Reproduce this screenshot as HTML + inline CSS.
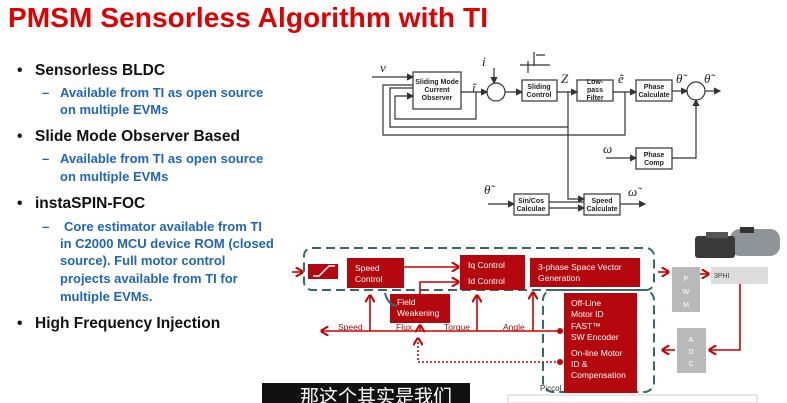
<!DOCTYPE html>
<html><head><meta charset="utf-8"><style>
body{margin:0;background:#fff;width:787px;height:403px;overflow:hidden}
svg{display:block}
.t{font-family:"Liberation Sans",sans-serif}
</style></head><body>
<svg width="787" height="403" viewBox="0 0 787 403" class="t">
<defs>
<marker id="a" markerWidth="6" markerHeight="6" refX="5" refY="3" orient="auto"><path d="M0,0 L6,3 L0,6 z" fill="#333"/></marker>
<marker id="r" markerWidth="5" markerHeight="6" refX="4" refY="3" orient="auto"><path d="M0,0 L5,3 L0,6" fill="none" stroke="#c00" stroke-width="1.3"/></marker>
</defs>
<text x="8" y="27" font-size="28" font-weight="bold" fill="#e00000" textLength="480">PMSM Sensorless Algorithm with TI</text>
<g font-size="15.5" font-weight="bold" fill="#111">
<text x="17" y="75">•</text><text x="35" y="75">Sensorless BLDC</text>
<text x="17" y="141">•</text><text x="35" y="141">Slide Mode Observer Based</text>
<text x="17" y="208">•</text><text x="35" y="208">instaSPIN-FOC</text>
<text x="17" y="328">•</text><text x="35" y="328">High Frequency Injection</text>
</g>
<g font-size="13" font-weight="bold" fill="#1f66b8">
<text x="42" y="97">–</text><text x="60" y="97">Available from TI as open source</text>
<text x="60" y="114">on multiple EVMs</text>
<text x="42" y="163">–</text><text x="60" y="163">Available from TI as open source</text>
<text x="60" y="181">on multiple EVMs</text>
<text x="42" y="231">–</text><text x="64" y="231">Core estimator available from TI</text>
<text x="60" y="248">in C2000 MCU device ROM (closed</text>
<text x="60" y="265">source). Full motor control</text>
<text x="60" y="283">projects available from TI for</text>
<text x="60" y="301">multiple EVMs.</text>
</g>
<!-- top diagram -->
<g stroke="#333" stroke-width="1.2" fill="none">
<rect x="413" y="72" width="48" height="37" fill="#fff"/>
<circle cx="496" cy="92" r="9"/>
<rect x="522" y="80" width="35" height="21"/>
<rect x="577" y="80" width="36" height="21"/>
<rect x="636" y="80" width="36" height="21"/>
<circle cx="696" cy="91" r="9"/>
<rect x="636" y="148" width="36" height="21"/>
<rect x="514" y="194" width="35" height="21"/>
<rect x="584" y="194" width="36" height="21"/>
<path d="M372 77 H413" marker-end="url(#a)"/>
<path d="M461 92 H487" marker-end="url(#a)"/>
<path d="M505 92 H522" marker-end="url(#a)"/>
<path d="M494 68 V83" marker-end="url(#a)"/>
<path d="M557 92 H577" marker-end="url(#a)"/>
<path d="M613 92 H636" marker-end="url(#a)"/>
<path d="M672 91 H687" marker-end="url(#a)"/>
<path d="M705 91 H720" marker-end="url(#a)"/>
<path d="M672 158 H696 V100" marker-end="url(#a)"/>
<path d="M606 158 H636" marker-end="url(#a)"/>
<path d="M476 92 V119 H395 V96 H413" marker-end="url(#a)"/>
<path d="M568 92 V127 H390 V88 H413"/>
<path d="M625 92 V135 H383 V85 H413"/>
<path d="M568 127 V199 H584" marker-end="url(#a)"/>
<path d="M488 204 H514" marker-end="url(#a)"/>
<path d="M549 202 H584 M549 208 H584" marker-end="url(#a)"/>
<path d="M620 204 H645" marker-end="url(#a)"/>
<path d="M528 61 V73 M520 65 H550 M534 52 V66 M536 55 H545"/>
</g>
<g font-size="7" font-weight="bold" fill="#222" text-anchor="middle">
<text x="437" y="84">Sliding Mode</text><text x="437" y="92">Current</text><text x="437" y="100">Observer</text>
<text x="539" y="89">Sliding</text><text x="539" y="97">Control</text>
<text x="595" y="84">Low-</text><text x="595" y="92">pass</text><text x="595" y="100">Filter</text>
<text x="654" y="89">Phase</text><text x="654" y="97">Calculate</text>
<text x="654" y="157">Phase</text><text x="654" y="165">Comp</text>
<text x="531" y="203">Sin/Cos</text><text x="531" y="211">Calculae</text>
<text x="602" y="203">Speed</text><text x="602" y="211">Calculate</text>
</g>
<g font-family="Liberation Serif" font-style="italic" font-size="13" fill="#222">
<text x="380" y="72">v</text><text x="482" y="66">i</text><text x="472" y="92">ĩ</text>
<text x="561" y="83">Z</text><text x="618" y="83">ẽ</text><text x="676" y="83">θ̃</text><text x="704" y="83">θ̃</text>
<text x="603" y="153">ω</text><text x="484" y="194">θ̃</text><text x="628" y="196">ω̃</text>
</g>
<!-- bottom diagram -->
<rect x="304" y="248" width="350" height="42" rx="8" fill="none" stroke="#2f6b6b" stroke-width="2" stroke-dasharray="9,5"/>
<rect x="543" y="290" width="111" height="102" rx="10" fill="none" stroke="#2f6b6b" stroke-width="2" stroke-dasharray="9,5"/>
<g fill="#b5080e">
<rect x="308" y="264" width="30" height="15"/>
<rect x="347" y="258" width="57" height="30"/>
<rect x="460" y="255" width="65" height="35"/>
<rect x="530" y="258" width="110" height="29"/>
<rect x="390" y="294" width="60" height="29"/>
<rect x="564" y="293" width="73" height="100"/>
</g>
<path d="M313 276 L319 276 L329 266 L335 266" stroke="#fff" stroke-width="1.5" fill="none"/>
<g fill="#fff" font-size="8.5">
<text x="355" y="271">Speed</text><text x="355" y="282">Control</text>
<text x="468" y="268">Iq Control</text><text x="468" y="284">Id Control</text>
<text x="538" y="270">3-phase Space Vector</text><text x="538" y="281">Generation</text>
<text x="397" y="305">Field</text><text x="397" y="316">Weakening</text>
<text x="571" y="306">Off-Line</text><text x="571" y="317">Motor ID</text>
<text x="571" y="329">FAST™</text><text x="571" y="340">SW Encoder</text>
<text x="571" y="356">On-line Motor</text><text x="571" y="367">ID &amp;</text><text x="571" y="378">Compensation</text>
</g>
<g stroke="#c00" stroke-width="1.6" fill="none">
<path d="M292 272 H302" marker-end="url(#r)"/>
<path d="M404 267 H458" marker-end="url(#r)"/>
<path d="M420 294 V282 H458" marker-end="url(#r)"/>
<path d="M560 331 H322" marker-end="url(#r)"/>
<path d="M370 331 V296" marker-end="url(#r)"/>
<path d="M477 331 V296" marker-end="url(#r)"/>
<path d="M533 331 V293" marker-end="url(#r)"/>
<path d="M420 331 V326" marker-end="url(#r)"/>
<path d="M658 272 H668" marker-end="url(#r)"/>
<path d="M700 274 H708" marker-end="url(#r)"/>
<path d="M740 284 V350 H710" marker-end="url(#r)"/>
<path d="M675 350 H663" marker-end="url(#r)"/>
<path d="M560 362 H418 V339" stroke-dasharray="2,2" marker-end="url(#r)"/>
</g>
<circle cx="560" cy="331" r="3" fill="#c00"/><circle cx="560" cy="362" r="3" fill="#c00"/>
<g font-size="8.5" fill="#8a1010"><text x="338" y="330">Speed</text><text x="396" y="330">Flux</text><text x="444" y="330">Torque</text><text x="503" y="330">Angle</text></g>
<path d="M385 293 Q388 305 397 306" stroke="#2f6b6b" stroke-width="2" fill="none"/>
<rect x="672" y="267" width="28" height="45" fill="#b9b9b9"/>
<rect x="711" y="267" width="57" height="17" fill="#dcdcdc"/>
<rect x="677" y="328" width="29" height="45" fill="#b9b9b9"/>
<g font-size="7" fill="#fff" text-anchor="middle"><text x="686" y="281">P</text><text x="686" y="294">W</text><text x="686" y="307">M</text>
<text x="691" y="342">A</text><text x="691" y="354">D</text><text x="691" y="366">C</text></g>
<text x="714" y="278" font-size="7" fill="#444">3PHI</text>
<!-- motor -->
<rect x="730" y="229" width="50" height="27" rx="10" fill="#8f9499"/>
<rect x="740" y="227" width="14" height="6" fill="#333"/>
<rect x="695" y="236" width="40" height="22" rx="3" fill="#3a3a3a"/>
<rect x="706" y="232" width="22" height="6" fill="#555"/>
<rect x="508" y="395" width="249" height="8" fill="#fff" stroke="#ccc"/>
<rect x="262" y="383" width="208" height="20" fill="#111"/>
<text x="300" y="403" font-size="19" fill="#fff" font-family="Liberation Sans, Noto Sans CJK SC, sans-serif">那这个其实是我们</text>
<text x="540" y="391" font-size="8" fill="#333">Piccol</text>
</svg>
</body></html>
